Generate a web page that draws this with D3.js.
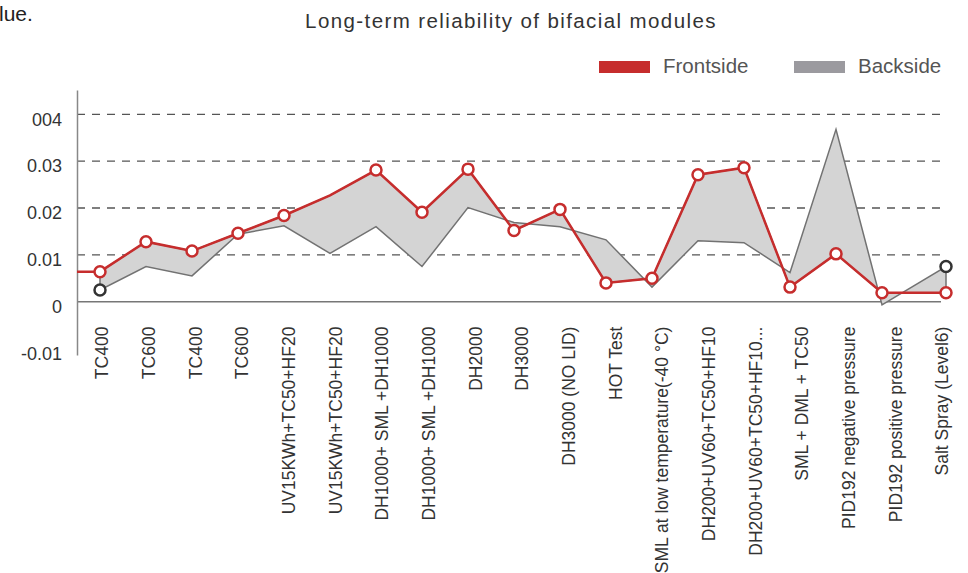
<!DOCTYPE html>
<html>
<head>
<meta charset="utf-8">
<script src="https://cdn.jsdelivr.net/npm/d3@7"></script>
<style>
  html, body { margin: 0; padding: 0; background: #fff; }
  svg { display: block; font-family: "Liberation Sans", Arial, sans-serif; }
</style>
</head>
<body>
<svg id="chart" width="968" height="573"></svg>
<script>
// ---- data ----
const categories = [
  "TC400", "TC600", "TC400", "TC600",
  "UV15KWh+TC50+HF20", "UV15KWh+TC50+HF20",
  "DH1000+ SML +DH1000", "DH1000+ SML +DH1000",
  "DH2000", "DH3000", "DH3000 (NO LID)", "HOT Test",
  "SML at low temperature(-40 °C)",
  "DH200+UV60+TC50+HF10", "DH200+UV60+TC50+HF10...",
  "SML + DML + TC50", "PID192 negative pressure",
  "PID192 positive pressure", "Salt Spray (Level6)"
];
const frontside = [0.0064, 0.0128, 0.0108, 0.0146, 0.0184, 0.0227, 0.0281, 0.0191, 0.0283, 0.0152,
                   0.0197, 0.0040, 0.0050, 0.0271, 0.0286, 0.0031, 0.0102, 0.0019, 0.0019];
const backside  = [0.0025, 0.0075, 0.0055, 0.0144, 0.0162, 0.0103, 0.0160, 0.0075, 0.0201, 0.0169,
                   0.0160, 0.0132, 0.0031, 0.0130, 0.0126, 0.0062, 0.0368, -0.0007, 0.0075];
const frontUnmarked = [5];        // point drawn without a marker
const backMarked = [0, 18];       // backside points with a marker
const yTickValues = [-0.01, 0, 0.01, 0.02, 0.03, 0.04];
const yTickLabels = ["-0.01", "0", "0.01", "0.02", "0.03", "004"];
const gridValues = [0.01, 0.02, 0.03, 0.04];
const seriesNames = ["Frontside", "Backside"];
const titleText = "Long-term reliability of bifacial modules";

// ---- layout ----
const RED = "#c62d2d";
const svg = d3.select("#chart");
const axisX = 77;
const idx = d3.range(categories.length);

const y = d3.scaleLinear().domain([-0.0114, 0.0452]).range([355, 90]);
const xLabel = d3.scalePoint().domain(idx).range([101.7, 941.7]);
const xData = d3.scaleLinear().domain([0, 17, 18]).range([100, 882, 946]);

// cropped caption fragment
svg.append("text").attr("x", -1).attr("y", 21)
  .attr("font-size", 21).attr("fill", "#222").text("lue.");

// title
svg.append("text").attr("x", 511).attr("y", 28).attr("text-anchor", "middle")
  .attr("font-size", 20.5).attr("letter-spacing", 1.4).attr("fill", "#333")
  .text(titleText);

// legend
const legend = svg.append("g");
const legendItems = [
  { name: seriesNames[0], color: RED, x: 599 },
  { name: seriesNames[1], color: "#9b9a9f", x: 794 }
];
legendItems.forEach(d => {
  legend.append("rect").attr("x", d.x).attr("y", 61).attr("width", 51).attr("height", 12)
    .attr("fill", d.color);
  legend.append("text").attr("x", d.x + 64).attr("y", 66).attr("dy", "0.35em")
    .attr("font-size", 20.5).attr("fill", "#555").text(d.name);
});

// gridlines
svg.append("g").selectAll("line").data(gridValues).join("line")
  .attr("x1", axisX).attr("x2", 946)
  .attr("y1", d => y(d)).attr("y2", d => y(d))
  .attr("stroke", "#555").attr("stroke-width", 1.3).attr("stroke-dasharray", "8,7");

// zero line
svg.append("line").attr("x1", axisX).attr("x2", 941).attr("y1", y(0)).attr("y2", y(0))
  .attr("stroke", "#777").attr("stroke-width", 1.5);

// y axis
const yAxis = svg.append("g").attr("transform", `translate(${axisX},0)`)
  .call(d3.axisLeft(y).tickValues(yTickValues).tickSize(0).tickSizeOuter(0)
    .tickPadding(15).tickFormat((d, i) => yTickLabels[i]));
yAxis.select(".domain").attr("stroke", "#888").attr("stroke-width", 1.5);
yAxis.selectAll("text").attr("font-size", 18).attr("fill", "#333")
  .attr("font-family", "'Liberation Sans', Arial, sans-serif").attr("dy", "0.6em");

// x axis labels
const xAxis = svg.append("g").attr("transform", `translate(0,${y(0)})`)
  .call(d3.axisBottom(xLabel).tickSize(0).tickFormat(i => categories[i]));
xAxis.select(".domain").remove();
xAxis.selectAll("text")
  .attr("font-size", 17.5).attr("fill", "#333")
  .attr("font-family", "'Liberation Sans', Arial, sans-serif")
  .attr("text-anchor", "end")
  .attr("transform", "rotate(-90)")
  .attr("x", -25).attr("y", 0).attr("dy", "0.35em");

// area between series
const pts = idx.map(i => ({ i, f: frontside[i], b: backside[i] }));
const area = d3.area().x(d => xData(d.i)).y0(d => y(d.b)).y1(d => y(d.f));
svg.append("path").datum(pts).attr("d", area)
  .attr("fill", "#d4d4d4").attr("stroke", "#727272").attr("stroke-width", 1.5)
  .attr("stroke-linejoin", "miter");

// frontside line (starts at the axis)
const frontLine = d3.line().x(d => d.x).y(d => y(d.v));
const frontPts = [{ x: axisX, v: frontside[0] }].concat(pts.map(d => ({ x: xData(d.i), v: d.f })));
svg.append("path").datum(frontPts).attr("d", frontLine)
  .attr("fill", "none").attr("stroke", RED).attr("stroke-width", 2.5);

// markers
svg.append("g").selectAll("circle").data(pts.filter(d => backMarked.includes(d.i))).join("circle")
  .attr("cx", d => xData(d.i)).attr("cy", d => y(d.b)).attr("r", 5.5)
  .attr("fill", "#fff").attr("stroke", "#333").attr("stroke-width", 2.5);
svg.append("g").selectAll("circle").data(pts.filter(d => !frontUnmarked.includes(d.i))).join("circle")
  .attr("cx", d => xData(d.i)).attr("cy", d => y(d.f)).attr("r", 5.5)
  .attr("fill", "#fff").attr("stroke", RED).attr("stroke-width", 2.5);
</script>
</body>
</html>
